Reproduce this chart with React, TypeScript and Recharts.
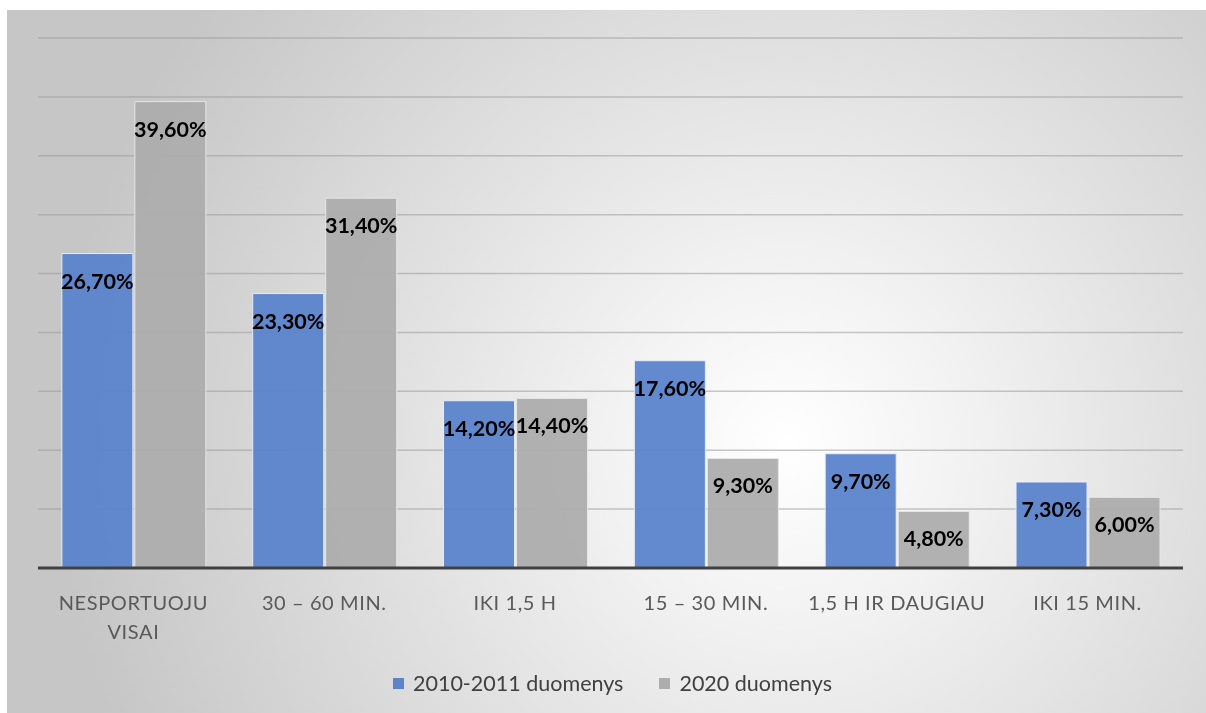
import React from "react";
import { BarChart, Bar, XAxis, YAxis, CartesianGrid, Legend, LabelList } from "recharts";

const categories = ["NESPORTUOJU VISAI", "30 – 60 MIN.", "IKI 1,5 H", "15 – 30 MIN.", "1,5 H IR DAUGIAU", "IKI 15 MIN."];
const series2010 = [26.7, 23.3, 14.2, 17.6, 9.7, 7.3];
const series2020 = [39.6, 31.4, 14.4, 9.3, 4.8, 6.0];
const seriesNames = ["2010-2011 duomenys", "2020 duomenys"];
const yTicks = [0, 5, 10, 15, 20, 25, 30, 35, 40, 45];

const BLUE = "#5b84cb";
const GRAY = "#adadad";
const FONT = "Lato, 'Liberation Sans', sans-serif";

const data = categories.map((c, i) => ({ name: c, a: series2010[i], b: series2020[i] }));

const fmt = (v: number) => v.toFixed(2).replace(".", ",") + "%";

function wrap(label: string): string[] {
  if (label.length <= 16) return [label];
  const words = label.split(" ");
  const lines: string[] = [];
  let cur = "";
  for (const w of words) {
    const t = cur ? cur + " " + w : w;
    if (t.length > 16 && cur) {
      lines.push(cur);
      cur = w;
    } else cur = t;
  }
  if (cur) lines.push(cur);
  return lines;
}

const Tick = (props: any) => {
  const { x, y, payload } = props;
  const lines = wrap(String(payload.value));
  return (
    <g>
      {lines.map((l, i) => (
        <text
          key={i}
          x={x}
          y={y + 34 + i * 29}
          textAnchor="middle"
          fill="#595959"
          fontSize={20}
          fontFamily={FONT}
          letterSpacing={0.6}
        >
          {l}
        </text>
      ))}
    </g>
  );
};

const ValueLabel = (props: any) => {
  const { x, y, width, value } = props;
  return (
    <text
      x={x + width / 2}
      y={y + 35}
      textAnchor="middle"
      fill="#000"
      fontSize={21.5}
      fontWeight="bold"
      fontFamily={FONT}
    >
      {fmt(value)}
    </text>
  );
};

const LegendContent = () => (
  <div
    style={{
      height: 40,
      display: "flex",
      justifyContent: "center",
      alignItems: "center",
      fontFamily: FONT,
      fontSize: 21.5,
      color: "#404040",
      paddingLeft: 4,
    }}
  >
    {[BLUE, GRAY].map((c, i) => (
      <div key={i} style={{ display: "flex", alignItems: "center", marginRight: i === 0 ? 36 : 0 }}>
        <div style={{ width: 11, height: 11, background: c, marginRight: 9 }} />
        <span>{seriesNames[i]}</span>
      </div>
    ))}
  </div>
);

export default function App() {
  return (
    <div
      style={{
        position: "fixed",
        left: 7,
        top: 10,
        width: 1199,
        height: 703,
        boxSizing: "content-box",
        paddingRight: 20,
        paddingBottom: 20,
        background: "radial-gradient(circle at 64% 60%, #ffffff 0%, #f2f2f2 20%, #c6c6c6 730px)",
      }}
    >
      <BarChart
        width={1199}
        height={703}
        data={data}
        margin={{ top: 28, right: 23, left: 31, bottom: 10 }}
        barCategoryGap="12.5%"
        barGap={2}
      >
        <CartesianGrid vertical={false} stroke="#9a9a9a" strokeOpacity={0.55} strokeWidth={1.5} />
        <YAxis hide domain={[0, 45]} ticks={yTicks} type="number" />
        <XAxis
          dataKey="name"
          interval={0}
          height={95}
          tickLine={false}
          axisLine={{ stroke: "#404040", strokeWidth: 3 }}
          tick={<Tick />}
        />
        <Legend verticalAlign="bottom" content={<LegendContent />} />
        <Bar dataKey="a" name={seriesNames[0]} fill={BLUE} fillOpacity={0.95} stroke="#e6ecf6" strokeWidth={1} isAnimationActive={false}>
          <LabelList dataKey="a" content={<ValueLabel />} />
        </Bar>
        <Bar dataKey="b" name={seriesNames[1]} fill={GRAY} fillOpacity={0.95} stroke="#e6e6e6" strokeWidth={1} isAnimationActive={false}>
          <LabelList dataKey="b" content={<ValueLabel />} />
        </Bar>
      </BarChart>
    </div>
  );
}
